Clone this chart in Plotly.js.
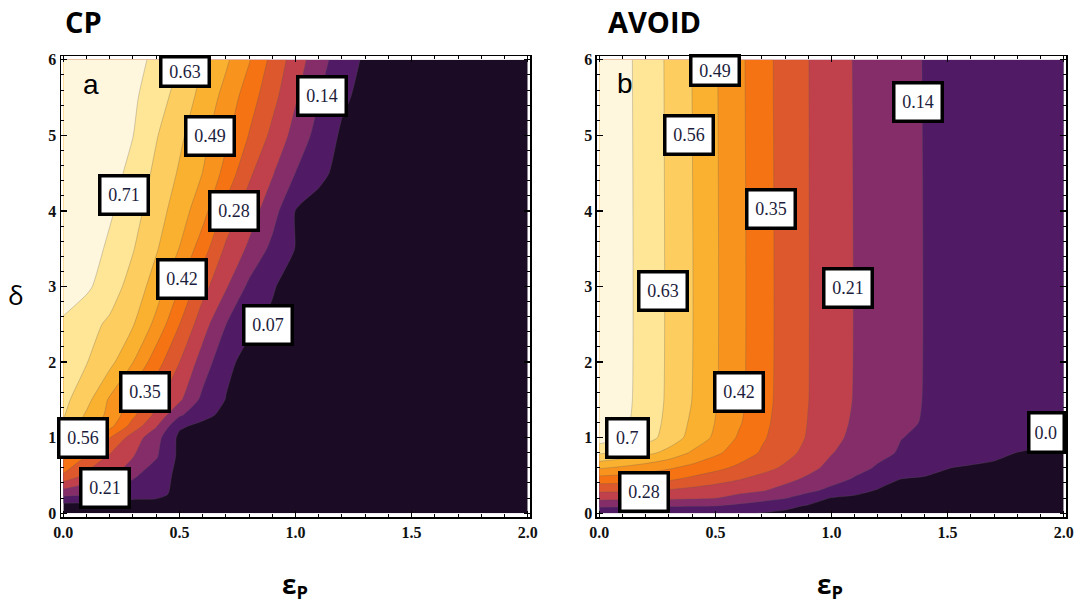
<!DOCTYPE html>
<html>
<head>
<meta charset="utf-8">
<script src="https://cdn.plot.ly/plotly-3.0.1.min.js"></script>
<style>html,body{margin:0;padding:0;background:#fff;}#chart{width:1091px;height:612px;}</style>
</head>
<body>
<div id="chart"></div>
<script>
// ---------- data ----------
const epsP = [0,0.1,0.2,0.3,0.4,0.5,0.6,0.7,0.8,0.9,1.0,1.1,1.2,1.3,1.4,1.5,1.6,1.7,1.8,1.9,2.0];

// CP panel (a): rows of delta
const deltaCP = [0,0.1,0.25,0.5,0.75,1.0,1.15,1.3,1.5,2.0,2.5,3.0,3.5,4.0,4.5,5.0,5.5,6.0];
const valuesCP = [
 [0.030,0.030,0.030,0.030,0.030,0.030,0.030,0.030,0.030,0.030,0.030,0.030,0.030,0.030,0.030,0.030,0.030,0.030,0.030,0.030,0.030],
 [0.047,0.045,0.043,0.040,0.040,0.035,0.030,0.030,0.030,0.030,0.030,0.030,0.030,0.030,0.030,0.030,0.030,0.030,0.030,0.030,0.030],
 [0.159,0.145,0.125,0.095,0.090,0.050,0.035,0.030,0.030,0.030,0.030,0.030,0.030,0.030,0.030,0.030,0.030,0.030,0.030,0.030,0.030],
 [0.340,0.265,0.228,0.152,0.100,0.055,0.045,0.040,0.035,0.030,0.030,0.030,0.030,0.030,0.030,0.030,0.030,0.030,0.030,0.030,0.030],
 [0.440,0.345,0.269,0.213,0.147,0.055,0.045,0.040,0.035,0.030,0.030,0.030,0.030,0.030,0.030,0.030,0.030,0.030,0.030,0.030,0.030],
 [0.580,0.520,0.352,0.247,0.165,0.055,0.048,0.042,0.035,0.030,0.030,0.030,0.030,0.030,0.030,0.030,0.030,0.030,0.030,0.030,0.030],
 [0.615,0.535,0.440,0.320,0.215,0.080,0.052,0.045,0.040,0.035,0.030,0.030,0.030,0.030,0.030,0.030,0.030,0.030,0.030,0.030,0.030],
 [0.636,0.550,0.470,0.365,0.262,0.150,0.090,0.052,0.045,0.040,0.035,0.030,0.030,0.030,0.030,0.030,0.030,0.030,0.030,0.030,0.030],
 [0.650,0.582,0.480,0.380,0.296,0.222,0.122,0.068,0.050,0.045,0.040,0.035,0.030,0.030,0.030,0.030,0.030,0.030,0.030,0.030,0.030],
 [0.665,0.633,0.580,0.491,0.380,0.281,0.180,0.085,0.050,0.045,0.040,0.035,0.030,0.030,0.030,0.030,0.030,0.030,0.030,0.030,0.030],
 [0.680,0.652,0.619,0.565,0.470,0.351,0.240,0.141,0.082,0.060,0.050,0.040,0.035,0.030,0.030,0.030,0.030,0.030,0.030,0.030,0.030],
 [0.770,0.713,0.661,0.604,0.527,0.421,0.305,0.218,0.125,0.075,0.045,0.040,0.035,0.030,0.030,0.030,0.030,0.030,0.030,0.030,0.030],
 [0.790,0.738,0.686,0.634,0.567,0.488,0.382,0.268,0.198,0.122,0.068,0.045,0.040,0.035,0.030,0.030,0.030,0.030,0.030,0.030,0.030],
 [0.800,0.755,0.710,0.657,0.592,0.524,0.447,0.329,0.243,0.170,0.068,0.045,0.040,0.035,0.032,0.030,0.030,0.030,0.030,0.030,0.030],
 [0.800,0.764,0.727,0.680,0.614,0.552,0.489,0.397,0.293,0.216,0.139,0.086,0.050,0.042,0.035,0.030,0.030,0.030,0.030,0.030,0.030],
 [0.800,0.767,0.734,0.701,0.635,0.574,0.511,0.435,0.347,0.263,0.185,0.115,0.060,0.045,0.040,0.035,0.030,0.030,0.030,0.030,0.030],
 [0.800,0.770,0.741,0.711,0.663,0.602,0.537,0.466,0.382,0.302,0.217,0.142,0.082,0.050,0.042,0.038,0.035,0.032,0.030,0.030,0.030],
 [0.800,0.785,0.760,0.730,0.680,0.631,0.563,0.502,0.425,0.330,0.247,0.167,0.105,0.060,0.045,0.040,0.035,0.032,0.030,0.030,0.030]
];

// AVOID panel (b)
const deltaAV = [0,0.1,0.2,0.3,0.45,0.6,0.8,1.0,1.2,1.5,6.0];
const valuesAV = [
 [0.090,0.088,0.086,0.084,0.082,0.080,0.075,0.068,0.060,0.052,0.048,0.046,0.044,0.043,0.042,0.041,0.040,0.039,0.038,0.037,0.036],
 [0.152,0.151,0.150,0.148,0.146,0.143,0.125,0.105,0.084,0.066,0.058,0.054,0.052,0.050,0.048,0.047,0.046,0.045,0.044,0.043,0.042],
 [0.229,0.228,0.226,0.223,0.218,0.211,0.189,0.167,0.144,0.105,0.066,0.058,0.054,0.052,0.050,0.049,0.048,0.047,0.046,0.045,0.044],
 [0.293,0.290,0.284,0.273,0.258,0.244,0.229,0.215,0.188,0.155,0.122,0.090,0.065,0.058,0.054,0.052,0.050,0.049,0.048,0.047,0.046],
 [0.388,0.384,0.375,0.360,0.334,0.309,0.284,0.256,0.228,0.198,0.165,0.133,0.101,0.069,0.063,0.060,0.057,0.055,0.053,0.051,0.050],
 [0.498,0.477,0.453,0.428,0.399,0.368,0.336,0.304,0.269,0.228,0.192,0.161,0.133,0.112,0.091,0.071,0.064,0.060,0.057,0.054,0.052],
 [0.642,0.615,0.581,0.538,0.481,0.434,0.388,0.343,0.303,0.259,0.213,0.184,0.156,0.134,0.121,0.108,0.095,0.082,0.069,0.062,0.057],
 [0.740,0.708,0.660,0.600,0.536,0.477,0.412,0.359,0.316,0.274,0.229,0.194,0.167,0.141,0.132,0.123,0.114,0.105,0.096,0.087,0.078],
 [0.750,0.715,0.669,0.611,0.548,0.488,0.429,0.368,0.320,0.278,0.236,0.201,0.177,0.152,0.136,0.128,0.119,0.110,0.101,0.092,0.083],
 [0.760,0.720,0.673,0.618,0.559,0.496,0.437,0.375,0.324,0.281,0.243,0.206,0.182,0.157,0.138,0.130,0.122,0.114,0.106,0.098,0.090],
 [0.760,0.720,0.673,0.618,0.559,0.496,0.437,0.375,0.324,0.281,0.243,0.206,0.182,0.157,0.138,0.130,0.122,0.114,0.106,0.098,0.090]
];

// contour labels
const labelTextCP = ['0.63','0.14','0.49','0.71','0.28','0.42','0.07','0.35','0.56','0.21'];
const labelXCP    = [0.523,1.116,0.632,0.26,0.735,0.512,0.88,0.353,0.086,0.18];
const labelYCP    = [5.84,5.52,4.99,4.21,4.0,3.10,2.49,1.61,1.0,0.33];

const labelTextAV = ['0.49','0.14','0.56','0.35','0.63','0.21','0.42','0.7','0.28'];
const labelXAV    = [0.50,1.372,0.387,0.738,0.273,1.069,0.602,0.123,0.194];
const labelYAV    = [5.86,5.44,5.0,4.03,2.94,2.98,1.61,0.99,0.28];

const panelTitles = ['CP','AVOID'];
const panelLetters = ['a','b'];
const xTitle = 'ε<sub>P</sub>';
const yTitle = 'δ';

// ---------- styling ----------
const bandColors = [[0,'#1c0b24'],[0.1,'#501b64'],[0.2,'#852d69'],[0.3,'#c0404b'],[0.4,'#de582d'],
  [0.5,'#f57312'],[0.6,'#f8931e'],[0.7,'#fbb130'],[0.8,'#fdcd5f'],[0.9,'#fee696'],[1,'#fff6de']];

function contourTrace(y, z, xa, ya) {
  return {
    type:'contour', x:epsP, y:y, z:z, xaxis:xa, yaxis:ya,
    autocontour:false,
    contours:{start:0.07, end:0.7001, size:0.07, coloring:'fill', showlines:true},
    line:{color:'rgba(90,90,90,0.35)', width:0.8, smoothing:0.6},
    colorscale:bandColors, showscale:false, hoverinfo:'skip'
  };
}

const tickFont = {family:'Liberation Serif, serif', size:16, color:'#111', weight:'bold'};
function xAxis(domain, anchor) {
  return {domain:domain, anchor:anchor, range:[-0.01,2.01], showgrid:false, zeroline:false,
    showline:true, linecolor:'black', linewidth:1.5, mirror:'ticks',
    ticks:'inside', ticklen:6, tickwidth:1.2, tickcolor:'black',
    tick0:0, dtick:0.5, tickformat:'.1f', tickfont:tickFont,
    minor:{ticks:'inside', ticklen:3, tickwidth:1, tickcolor:'black', dtick:0.1, showgrid:false}};
}
function yAxis(anchor) {
  return {domain:[0,1], anchor:anchor, range:[-0.05,6.05], showgrid:false, zeroline:false,
    showline:true, linecolor:'black', linewidth:1.5, mirror:'ticks',
    ticks:'inside', ticklen:6, tickwidth:1.2, tickcolor:'black',
    tick0:0, dtick:1, tickfont:tickFont,
    minor:{ticks:'inside', ticklen:3, tickwidth:1, tickcolor:'black', dtick:0.2, showgrid:false}};
}

const labelFont = {family:'Liberation Serif, serif', size:18, color:'#1c1c3c'};
function boxLabel(t, x, y, xr, yr, top) {
  return {xref:xr, yref:yr, x:x, y:y, text:t, showarrow:false, font:labelFont,
    bgcolor:'white', bordercolor:'black', borderwidth:3.5, borderpad: top ? 3 : 5,
    width:7.5*t.length + 5 + (top ? 4 : 0), height: top ? 20 : 25};
}

const annotations = [];
labelTextCP.forEach((t,i)=>annotations.push(boxLabel(t, labelXCP[i], labelYCP[i], 'x', 'y', i === 0)));
labelTextAV.forEach((t,i)=>annotations.push(boxLabel(t, labelXAV[i], labelYAV[i], 'x2', 'y2', i === 0)));
// label cut by the right frame
annotations.push({xref:'x2', yref:'y2', x:2.01, y:1.07, xanchor:'right', text:'0.0', showarrow:false,
  font:labelFont, bgcolor:'white', bordercolor:'black', borderwidth:3.5, borderpad:4, width:24, height:28, align:'left'});

// titles
const titleFont = {family:'Open Sans, sans-serif', size:29, color:'#000', weight:'bold'};
annotations.push({xref:'paper', yref:'paper', x:0.002, y:1.1215, xanchor:'left', yanchor:'top', text:panelTitles[0], showarrow:false, font:titleFont});
annotations.push({xref:'paper', yref:'paper', x:0.542, y:1.1215, xanchor:'left', yanchor:'top', text:panelTitles[1], showarrow:false, font:titleFont});
const axTitleFont = {family:'Open Sans, sans-serif', size:26, color:'#000', weight:'bold'};
annotations.push({xref:'paper', yref:'paper', x:0.2328, y:-0.1475, xanchor:'center', yanchor:'middle', text:xTitle, showarrow:false, font:axTitleFont});
annotations.push({xref:'paper', yref:'paper', x:0.765, y:-0.1475, xanchor:'center', yanchor:'middle', text:xTitle, showarrow:false, font:axTitleFont});
annotations.push({xref:'paper', yref:'paper', x:-0.0448, y:0.4816, xanchor:'center', yanchor:'middle', text:yTitle, showarrow:false,
  font:{family:'Open Sans, sans-serif', size:26, color:'#000'}});
const letterFont = {family:'Liberation Sans, Arial, sans-serif', size:28, color:'#000'};
annotations.push({xref:'x', yref:'y', x:0.12, y:5.67, text:panelLetters[0], showarrow:false, font:letterFont});
annotations.push({xref:'x2', yref:'y2', x:0.112, y:5.69, text:panelLetters[1], showarrow:false, font:letterFont});

const layout = {
  width:1091, height:612,
  margin:{l:61, r:25, t:56, b:95},
  paper_bgcolor:'white', plot_bgcolor:'white', showlegend:false,
  xaxis:xAxis([0,0.4667],'y'), yaxis:yAxis('x'),
  xaxis2:xAxis([0.5333,1],'y2'), yaxis2:yAxis('x2'),
  annotations:annotations
};

Plotly.newPlot('chart', [
  contourTrace(deltaCP, valuesCP, 'x', 'y'),
  contourTrace(deltaAV, valuesAV, 'x2', 'y2')
], layout, {displayModeBar:false, staticPlot:true});
</script>
</body>
</html>
